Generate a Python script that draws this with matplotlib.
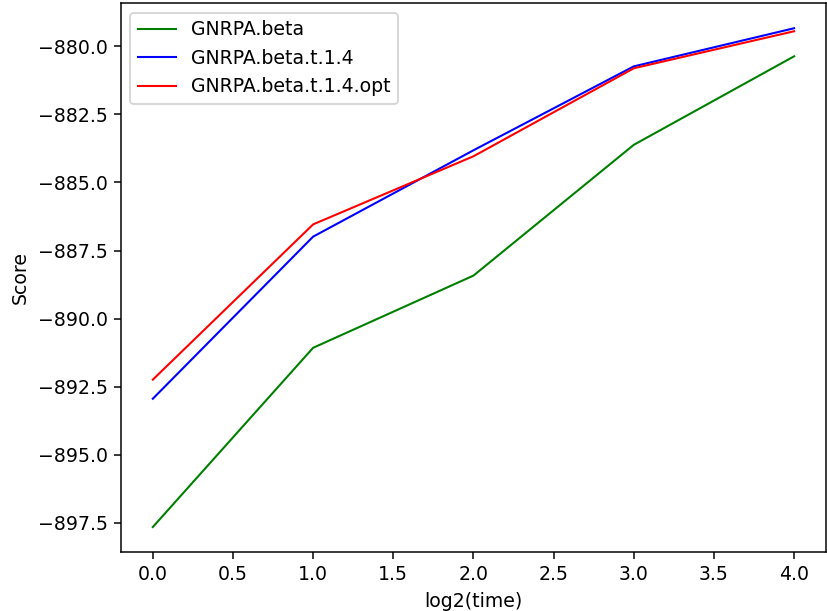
import matplotlib
matplotlib.use("Agg")
import matplotlib.pyplot as plt

x = [0, 1, 2, 3, 4]
beta = [-897.65, -891.07, -888.42, -883.62, -880.37]
beta_t14 = [-892.94, -886.99, -883.82, -880.74, -879.34]
beta_t14_opt = [-892.24, -886.54, -884.04, -880.81, -879.45]

DPI = 136
fig = plt.figure(figsize=(827 / DPI, 611 / DPI), dpi=DPI)
ax = fig.add_axes([0.146, 0.0966, 0.853, 0.898])
lw = 1.1
ax.plot(x, beta, color="green", lw=lw, label="GNRPA.beta")
ax.plot(x, beta_t14, color="blue", lw=lw, label="GNRPA.beta.t.1.4")
ax.plot(x, beta_t14_opt, color="red", lw=lw, label="GNRPA.beta.t.1.4.opt")
ax.set_xlabel("log2(time)")
ax.set_ylabel("Score")
ax.legend(loc="upper left")
fig.savefig("out.png", dpi=DPI)
